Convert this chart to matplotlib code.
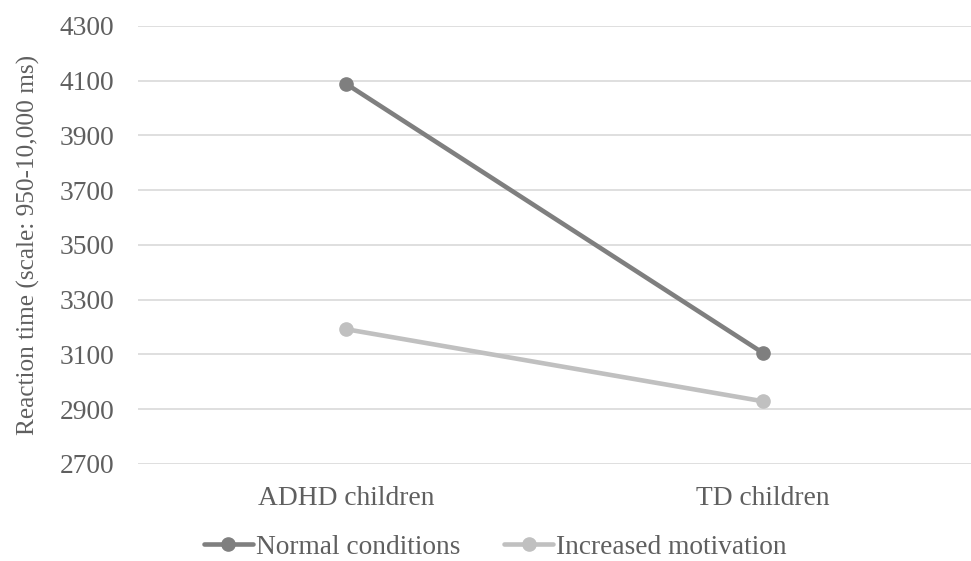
import matplotlib.pyplot as plt

groups = ['ADHD children', 'TD children']
normal = [4088, 3106]
motivated = [3192, 2929]
yticks = [2700, 2900, 3100, 3300, 3500, 3700, 3900, 4100, 4300]

plt.rcParams['font.family'] = ['Liberation Serif', 'DejaVu Serif']
text_col = '#5f5f5f'

fig = plt.figure(figsize=(9.71, 5.61), dpi=100)
ax = fig.add_axes([0.142, 0.173, 0.858, 0.781])

x = range(len(groups))
ax.plot(x, normal, color='#7f7f7f', lw=3.3, marker='o', ms=9.5, label='Normal conditions',
        solid_capstyle='round', zorder=3)
ax.plot(x, motivated, color='#c0c0c0', lw=3.3, marker='o', ms=9.5, label='Increased motivation',
        solid_capstyle='round', zorder=3)

ax.set_xlim(-0.5, 1.5)
ax.set_ylim(2700, 4300)
ax.set_yticks(yticks)
ax.set_xticks(list(x))
ax.set_xticklabels(groups)
ax.grid(axis='y', color='#d9d9d9', lw=1.2)
ax.set_axisbelow(True)
for s in ax.spines.values():
    s.set_visible(False)
ax.tick_params(length=0, labelsize=19.8, colors=text_col)
ax.tick_params(axis='y', pad=17)
ax.tick_params(axis='x', pad=16)
ax.set_ylabel('Reaction time (scale: 950-10,000 ms)', fontsize=18.2, color=text_col, labelpad=14)

fig.legend(loc='lower center', bbox_to_anchor=(0.51, -0.025), ncol=2, frameon=False,
           fontsize=19.7, labelcolor=text_col, handlelength=1.8, handletextpad=0.1,
           columnspacing=1.6, borderpad=0.05)

fig.savefig('out.png', dpi=100)
